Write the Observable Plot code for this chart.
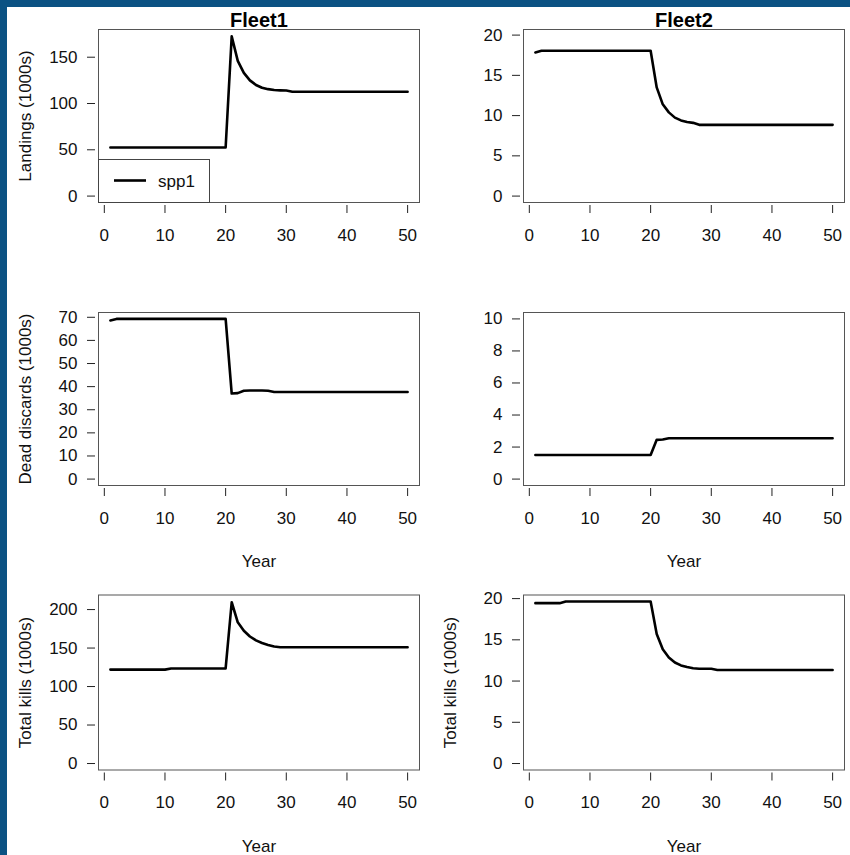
<!DOCTYPE html>
<html>
<head>
<meta charset="utf-8">
<script src="https://cdn.jsdelivr.net/npm/d3@7"></script>
<script src="https://cdn.jsdelivr.net/npm/@observablehq/plot@0.6"></script>
<style>
  html, body { margin: 0; padding: 0; background: #fff; }
  #page {
    position: relative; width: 850px; height: 855px; overflow: hidden;
    background: #0b5283;
    font-family: "Liberation Sans", Arial, sans-serif;
  }
  #sheet { position: absolute; left: 7px; top: 7px; right: 0; bottom: 0; background: #fff; }
</style>
</head>
<body>
<div id="page"><div id="sheet"></div></div>
<script>
// Simulation years and x-axis ticks
const years = [1,2,3,4,5,6,7,8,9,10,11,12,13,14,15,16,17,18,19,20,
               21,22,23,24,25,26,27,28,29,30,31,32,33,34,35,36,37,38,39,40,
               41,42,43,44,45,46,47,48,49,50];
const xTicks = [0, 10, 20, 30, 40, 50];

// Landings (1000s) by fleet
const landingsFleet1 = [52.5,52.5,52.5,52.5,52.5,52.5,52.5,52.5,52.5,52.5,
                        52.5,52.5,52.5,52.5,52.5,52.5,52.5,52.5,52.5,52.5,
                        172.5,146,133,125,120,117,115.5,114.5,114.2,114,
                        112.7,112.7,112.7,112.7,112.7,112.7,112.7,112.7,112.7,112.7,
                        112.7,112.7,112.7,112.7,112.7,112.7,112.7,112.7,112.7,112.7];
const landingsFleet2 = [17.85,18.05,18.05,18.05,18.05,18.05,18.05,18.05,18.05,18.05,
                        18.05,18.05,18.05,18.05,18.05,18.05,18.05,18.05,18.05,18.05,
                        13.5,11.4,10.4,9.75,9.4,9.2,9.1,8.85,8.85,8.85,
                        8.85,8.85,8.85,8.85,8.85,8.85,8.85,8.85,8.85,8.85,
                        8.85,8.85,8.85,8.85,8.85,8.85,8.85,8.85,8.85,8.85];

// Dead discards (1000s) by fleet
const discardsFleet1 = [68.6,69.3,69.3,69.3,69.3,69.3,69.3,69.3,69.3,69.3,
                        69.3,69.3,69.3,69.3,69.3,69.3,69.3,69.3,69.3,69.3,
                        37.0,37.2,38.2,38.3,38.3,38.3,38.2,37.7,37.7,37.7,
                        37.7,37.7,37.7,37.7,37.7,37.7,37.7,37.7,37.7,37.7,
                        37.7,37.7,37.7,37.7,37.7,37.7,37.7,37.7,37.7,37.7];
const discardsFleet2 = [1.5,1.5,1.5,1.5,1.5,1.5,1.5,1.5,1.5,1.5,
                        1.5,1.5,1.5,1.5,1.5,1.5,1.5,1.5,1.5,1.5,
                        2.45,2.47,2.55,2.55,2.55,2.55,2.55,2.55,2.55,2.55,
                        2.55,2.55,2.55,2.55,2.55,2.55,2.55,2.55,2.55,2.55,
                        2.55,2.55,2.55,2.55,2.55,2.55,2.55,2.55,2.55,2.55];

// Total kills (1000s) by fleet
const killsFleet1 = [122,122,122,122,122,122,122,122,122,122,
                     123.5,123.5,123.5,123.5,123.5,123.5,123.5,123.5,123.5,123.5,
                     209.5,183.5,172.5,165,160,156.5,154,152,151,151,
                     151,151,151,151,151,151,151,151,151,151,
                     151,151,151,151,151,151,151,151,151,151];
const killsFleet2 = [19.45,19.45,19.45,19.45,19.45,19.65,19.65,19.65,19.65,19.65,
                     19.65,19.65,19.65,19.65,19.65,19.65,19.65,19.65,19.65,19.65,
                     15.7,13.85,12.85,12.25,11.9,11.7,11.55,11.5,11.5,11.5,
                     11.35,11.35,11.35,11.35,11.35,11.35,11.35,11.35,11.35,11.35,
                     11.35,11.35,11.35,11.35,11.35,11.35,11.35,11.35,11.35,11.35];

// Panel titles, axis titles and legend entry
const fleetTitles = ["Fleet1", "Fleet2"];
const rowLabels = ["Landings (1000s)", "Dead discards (1000s)", "Total kills (1000s)"];
const xTitle = "Year";
const seriesName = "spp1";

const FONT = '"Liberation Sans", Arial, sans-serif';
const page = document.getElementById("page");

// Row and column geometry (page pixels)
const rows = [
  {top: 0,   height: 250, marginTop: 29,   marginBottom: 48},
  {top: 250, height: 325, marginTop: 62,   marginBottom: 90},
  {top: 575, height: 280, marginTop: 19.5, marginBottom: 85.5}
];
const cols = [{left: 0}, {left: 425}];

function panel({values, yMax, yTicks, row, col, title, yLabel, xLabel}) {
  const r = rows[row], c = cols[col];
  const data = years.map((year, i) => ({year, value: values[i]}));
  const marks = [
    Plot.frame({stroke: "#555"}),
    Plot.axisX({ticks: xTicks, tickSize: 8, dy: 3, tickPadding: 15, label: null,
                fontSize: 17, stroke: "#222", tickFormat: d => String(d)}),
    Plot.axisY({ticks: yTicks, tickSize: 8, dx: -3, tickPadding: 10, label: null,
                fontSize: 17, stroke: "#222", tickFormat: d => String(d)}),
    Plot.line(data, {x: "year", y: "value", stroke: "black", strokeWidth: 2.6})
  ];
  if (title) marks.push(Plot.text([title], {text: d => d, frameAnchor: "top", dy: -9,
    textAnchor: "middle", lineAnchor: "middle", fontWeight: "bold", fontSize: 20, fill: "black"}));
  if (yLabel) marks.push(Plot.text([yLabel], {text: d => d, frameAnchor: "left", dx: -73,
    rotate: -90, textAnchor: "middle", lineAnchor: "middle", fontSize: 17, fill: "#111"}));
  if (xLabel) marks.push(Plot.text([xLabel], {text: d => d, frameAnchor: "bottom", dy: 76.5,
    textAnchor: "middle", lineAnchor: "middle", fontSize: 17, fill: "#111"}));

  const svg = Plot.plot({
    width: 425,
    height: r.height,
    marginLeft: 98, marginRight: 6,
    marginTop: r.marginTop, marginBottom: r.marginBottom,
    x: {domain: [1 - 0.04 * 49, 50 + 0.04 * 49]},
    y: {domain: [-0.04 * yMax, 1.04 * yMax]},
    style: {fontFamily: FONT, fontSize: "17px", color: "#111", background: "transparent", overflow: "visible"},
    marks
  });
  svg.style.position = "absolute";
  svg.style.left = c.left + "px";
  svg.style.top = r.top + "px";
  page.appendChild(svg);
}

panel({values: landingsFleet1, yMax: 173,   yTicks: [0, 50, 100, 150],      row: 0, col: 0, title: fleetTitles[0], yLabel: rowLabels[0]});
panel({values: landingsFleet2, yMax: 19.9,  yTicks: [0, 5, 10, 15, 20],     row: 0, col: 1, title: fleetTitles[1]});
panel({values: discardsFleet1, yMax: 69.3,  yTicks: [0, 10, 20, 30, 40, 50, 60, 70], row: 1, col: 0, yLabel: rowLabels[1], xLabel: xTitle});
panel({values: discardsFleet2, yMax: 10,    yTicks: [0, 2, 4, 6, 8, 10],    row: 1, col: 1, xLabel: xTitle});
panel({values: killsFleet1,    yMax: 210.5, yTicks: [0, 50, 100, 150, 200], row: 2, col: 0, yLabel: rowLabels[2], xLabel: xTitle});
panel({values: killsFleet2,    yMax: 19.65, yTicks: [0, 5, 10, 15, 20],     row: 2, col: 1, yLabel: rowLabels[2], xLabel: xTitle});

// Legend box in the lower-left corner of the first panel
const legend = d3.select(page).append("svg")
  .attr("width", 850).attr("height", 855)
  .style("position", "absolute").style("left", 0).style("top", 0)
  .style("pointer-events", "none");
legend.append("rect")
  .attr("x", 98.5).attr("y", 159.5).attr("width", 111).attr("height", 43)
  .attr("fill", "white").attr("stroke", "#444");
legend.append("line")
  .attr("x1", 114).attr("x2", 146).attr("y1", 180.5).attr("y2", 180.5)
  .attr("stroke", "black").attr("stroke-width", 2.6);
legend.append("text")
  .attr("x", 158).attr("y", 186.5)
  .attr("font-family", FONT).attr("font-size", 17).attr("fill", "#111")
  .text(seriesName);
</script>
</body>
</html>
